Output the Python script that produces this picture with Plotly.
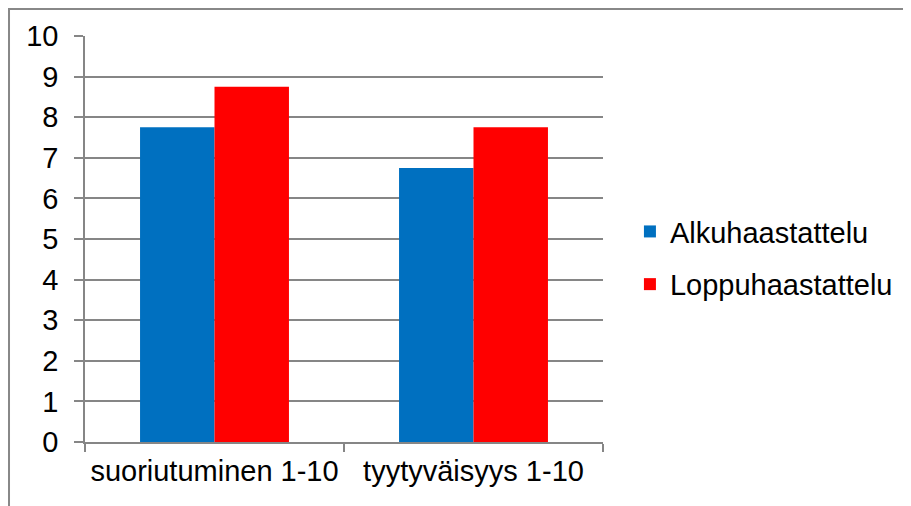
import plotly.graph_objects as go

categories = ["suoriutuminen 1-10", "tyytyväisyys 1-10"]
alku = [7.75, 6.75]
loppu = [8.75, 7.75]

_FONT = dict(family="Liberation Sans, Arial, sans-serif", size=29, color="#000000")
GRID = "#868686"

fig = go.Figure()
fig.add_trace(go.Bar(name="Alkuhaastattelu", x=categories, y=alku,
                     marker=dict(color="#0070C0", line=dict(width=0)), legendgroup="a"))
fig.add_trace(go.Bar(name="Loppuhaastattelu", x=categories, y=loppu,
                     marker=dict(color="#FF0000", line=dict(width=0)), legendgroup="b"))

# page body has an 8px margin, so the figure is shifted by 8px
fig.update_layout(
    width=903,
    height=498,
    barmode="group",
    bargap=0.425,
    bargroupgap=0,
    paper_bgcolor="white",
    plot_bgcolor="white",
    font=_FONT,
    margin=dict(l=77, r=308, t=28, b=64),
    xaxis=dict(
        showline=True, linecolor=GRID, linewidth=1.5,
        ticks="outside", tickson="boundaries", ticklen=8, tickcolor=GRID, tickwidth=1.5,
        showgrid=False, ticklabelstandoff=2,
    ),
    yaxis=dict(
        range=[0, 10], dtick=1, showline=True, linecolor=GRID, linewidth=1.5,
        ticks="outside", ticklen=9, tickcolor=GRID, tickwidth=1.5,
        showgrid=True, gridcolor=GRID, gridwidth=1.5, zeroline=False,
        ticklabelstandoff=10,
    ),
    legend=dict(x=1.052, y=0.453, xanchor="left", yanchor="middle", tracegroupgap=12,
                font=dict(size=29), itemwidth=30, traceorder="grouped"),
    shapes=[dict(type="rect", xref="paper", yref="paper", x0=-0.1467, x1=3, y0=-2, y1=1.0665,
                 line=dict(color="#888888", width=2), fillcolor="rgba(0,0,0,0)", layer="below")],
)

fig.write_html("out.html")
